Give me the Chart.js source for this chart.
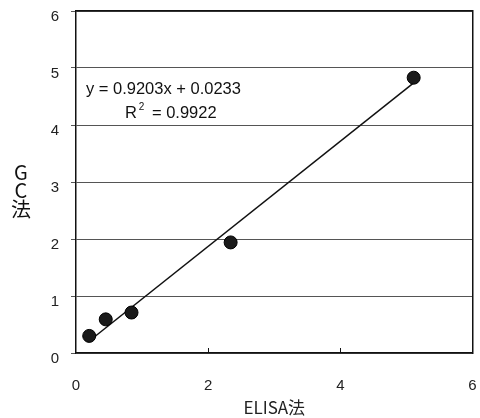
<!DOCTYPE html>
<html>
<head>
<meta charset="utf-8">
<script src="https://cdn.jsdelivr.net/npm/chart.js@4.4.1/dist/chart.umd.min.js"></script>
<style>
  html, body { margin: 0; padding: 0; background: #fff; }
  #wrap { width: 480px; height: 418px; }
</style>
</head>
<body>
<div id="wrap"><canvas id="c" width="480" height="418"></canvas></div>
<script>
(function() {
  'use strict';

  // measured points (ELISA vs GC)
  var elisaX = [0.2, 0.45, 0.84, 2.34, 5.11];
  var gcY    = [0.30, 0.59, 0.71, 1.94, 4.83];

  // trendline end points
  var trendX = [0.2, 5.11];
  var trendY = [0.21, 4.74];

  var xTicks = [0, 2, 4, 6];
  var yTicks = [0, 1, 2, 3, 4, 5, 6];

  var eqLines = ['y = 0.9203x + 0.0233', 'R', '2', ' = 0.9922'];
  var yTitle = ['G', 'C', '法'];
  var xTitle = 'ELISA法';

  var INK = '#111';
  var GRID = '#555';
  var FONT = "'Liberation Sans', Arial, sans-serif";
  var FONT_JP = "'Noto Sans CJK JP', sans-serif";

  function pts(xs, ys) {
    return xs.map(function(x, i) { return { x: x, y: ys[i] }; });
  }

  var extras = {
    id: 'extras',
    afterDraw: function(chart) {
      var c = chart.ctx;
      var xs = chart.scales.x, ys = chart.scales.y;
      var area = chart.chartArea;
      c.save();
      // inward tick marks on x axis
      c.strokeStyle = INK;
      c.lineWidth = 1;
      xTicks.forEach(function(v) {
        if (v === 0 || v === 6) return;
        var px = Math.round(xs.getPixelForValue(v)) + 0.5;
        c.beginPath();
        c.moveTo(px, area.bottom);
        c.lineTo(px, area.bottom - 5);
        c.stroke();
      });
      // equation text
      c.fillStyle = INK;
      c.textBaseline = 'alphabetic';
      c.textAlign = 'left';
      c.font = '16.5px ' + FONT;
      c.fillText(eqLines[0], xs.getPixelForValue(0.15), ys.getPixelForValue(4.55));
      var rx = xs.getPixelForValue(0.74);
      var ry = ys.getPixelForValue(4.13);
      c.fillText(eqLines[1], rx, ry);
      var rw = c.measureText(eqLines[1]).width;
      c.font = '10px ' + FONT;
      c.fillText(eqLines[2], rx + rw + 2, ry - 8);
      var sw = c.measureText(eqLines[2]).width;
      c.font = '16.5px ' + FONT;
      c.fillText(eqLines[3], rx + rw + sw + 5, ry);
      // stacked y title
      c.font = '20px ' + FONT_JP;
      c.textAlign = 'center';
      c.textBaseline = 'middle';
      [172, 190, 209].forEach(function(yy, i) {
        c.fillText(yTitle[i], 21, yy);
      });
      c.restore();
    }
  };

  new Chart(document.getElementById('c'), {
    type: 'scatter',
    data: {
      datasets: [
        {
          label: 'data',
          data: pts(elisaX, gcY),
          backgroundColor: '#1a1a1a',
          borderColor: '#000',
          borderWidth: 1,
          pointRadius: 6.5,
          order: 1
        },
        {
          type: 'line',
          label: 'trend',
          data: pts(trendX, trendY),
          borderColor: INK,
          borderWidth: 1.5,
          pointRadius: 0,
          fill: false,
          order: 2
        }
      ]
    },
    options: {
      responsive: false,
      animation: false,
      layout: { padding: { left: 0, right: 5, top: 11, bottom: 0 } },
      plugins: {
        legend: { display: false },
        tooltip: { enabled: false }
      },
      scales: {
        x: {
          type: 'linear',
          min: 0,
          max: 6,
          afterBuildTicks: function(s) { s.ticks = xTicks.map(function(v) { return { value: v }; }); },
          afterFit: function(s) { s.height = 65; s.paddingLeft = 0; s.paddingRight = 0; },
          ticks: { color: '#222', font: { family: FONT, size: 15 }, padding: 16 },
          grid: { display: false },
          border: { display: true, color: INK, width: 1.5 },
          title: {
            display: true,
            text: xTitle,
            color: '#222',
            font: { family: FONT_JP, size: 17 },
            padding: { top: 4, bottom: 0 }
          }
        },
        y: {
          type: 'linear',
          min: 0,
          max: 6,
          afterBuildTicks: function(s) { s.ticks = yTicks.map(function(v) { return { value: v }; }); },
          afterFit: function(s) { s.width = 76; s.paddingTop = 0; s.paddingBottom = 0; },
          ticks: { color: '#222', font: { family: FONT, size: 15 }, padding: 12, labelOffset: 6 },
          grid: { color: GRID, lineWidth: 1, tickLength: 5, drawTicks: true },
          border: { display: true, color: INK, width: 1.5 }
        },
        x2: {
          type: 'linear',
          position: 'top',
          min: 0, max: 6,
          display: true,
          ticks: { display: false },
          grid: { display: false },
          border: { display: true, color: INK, width: 1.5 },
          afterFit: function(s) { s.height = 0; s.paddingLeft = 0; s.paddingRight = 0; }
        },
        y2: {
          type: 'linear',
          position: 'right',
          min: 0, max: 6,
          display: true,
          ticks: { display: false },
          grid: { display: false },
          border: { display: true, color: INK, width: 1.5 },
          afterFit: function(s) { s.width = 0; s.paddingTop = 0; s.paddingBottom = 0; }
        }
      }
    },
    plugins: [extras]
  });
})();
</script>
</body>
</html>
